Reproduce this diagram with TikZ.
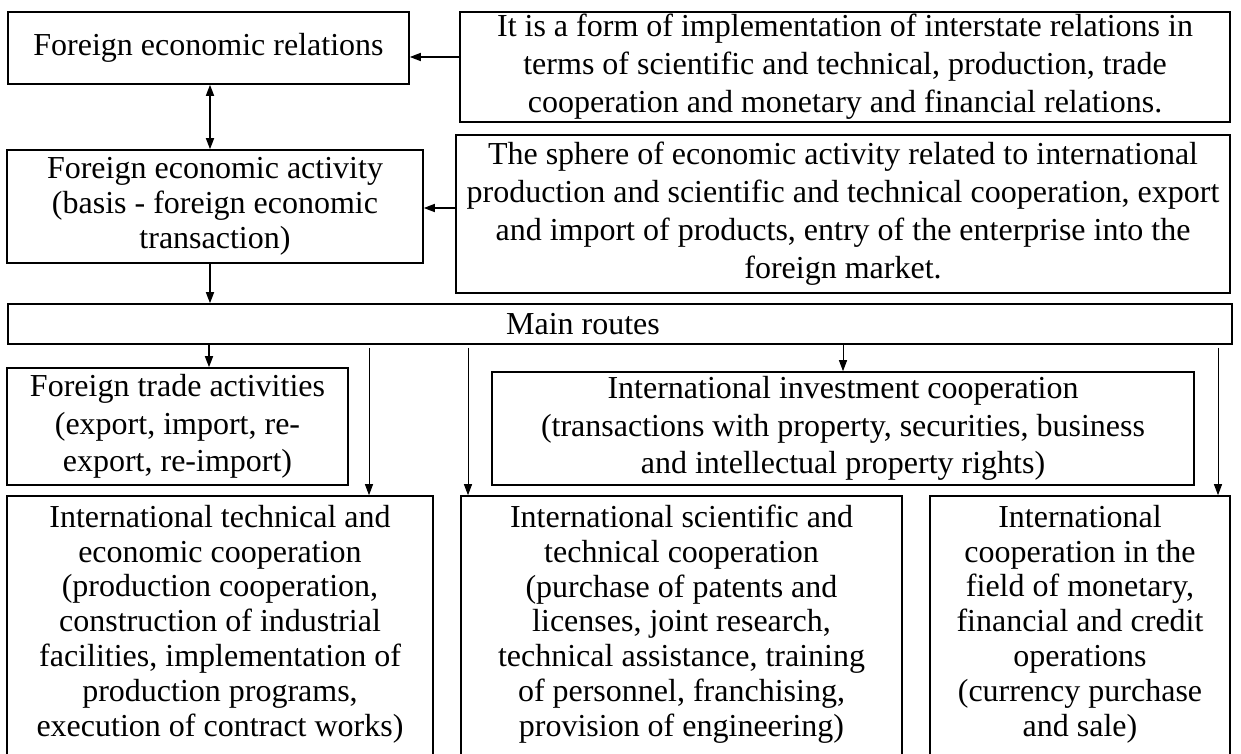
\documentclass[tikz,border=0pt]{standalone}
\usepackage{fontspec}
\setmainfont{Liberation Serif}
\usetikzlibrary{arrows.meta}
\begin{document}
\begin{tikzpicture}[x=0.5pt,y=-0.5pt,
  box/.style={draw, line width=0.8pt, inner sep=0pt, align=center},
  txt/.style={inner sep=0pt, align=center},
  fa/.style={font=\fontsize{16pt}{19pt}\selectfont},
  fb/.style={font=\fontsize{16pt}{17.5pt}\selectfont},
  fc/.style={font=\fontsize{16pt}{18.75pt}\selectfont},
  fd/.style={font=\fontsize{16pt}{17.4pt}\selectfont},
  thickarr/.style={line width=0.8pt, -{Triangle[length=5.5pt,width=4pt]}},
  bothArr/.style={line width=0.8pt, {Triangle[length=5.5pt,width=4pt]}-{Triangle[length=5.5pt,width=4pt]}},
  thinarr/.style={line width=0.5pt, -{Triangle[length=5.5pt,width=4pt]}}]
\useasboundingbox (0,0) rectangle (1241,754);

% top boxes
\node[box, fa, minimum width=200.5pt, minimum height=36pt] (A) at (208.5,48) {Foreign economic relations};
\node[box, fa, minimum width=385pt, minimum height=55pt] (B) at (845,67)
  {It is a form of implementation of interstate relations in\\
   terms of scientific and technical, production, trade\\
   cooperation and monetary and financial relations.};
\node[box, fb, minimum width=208pt, minimum height=56.5pt] (C) at (215,206.5)
  {Foreign economic activity\\(basis - foreign economic\\transaction)};
\node[box, fa, minimum width=387pt, minimum height=79pt] (D) at (843,214)
  {The sphere of economic activity related to international\\
   production and scientific and technical cooperation, export\\
   and import of products, entry of the enterprise into the\\
   foreign market.};

% main routes
\node[box, minimum width=612pt, minimum height=20pt] (M) at (620,324) {};
\node[txt, fa] (Mt) at (583,324) {Main routes};

% middle row
\node[box, fc, minimum width=170.5pt, minimum height=58.5pt] (T) at (177.5,426.5)
  {Foreign trade activities\\(export, import, re-\\export, re-import)};
\node[box, fc, minimum width=351pt, minimum height=56.5pt] (I) at (843,428.5)
  {International investment cooperation\\
   (transactions with property, securities, business\\
   and intellectual property rights)};

% bottom row
\node[box, minimum width=213pt, minimum height=132pt] (E) at (220,628) {};
\node[txt, fd] (Et) at (220,624)
  {International technical and\\economic cooperation\\(production cooperation,\\construction of industrial\\facilities, implementation of\\production programs,\\execution of contract works)};
\node[box, minimum width=220.5pt, minimum height=132pt] (S) at (681.5,628) {};
\node[txt, fd] (St) at (681.5,624)
  {International scientific and\\technical cooperation\\(purchase of patents and\\licenses, joint research,\\technical assistance, training\\of personnel, franchising,\\provision of engineering)};
\node[box, minimum width=150pt, minimum height=132pt] (F) at (1080,628) {};
\node[txt, fd] (Ft) at (1080,624)
  {International\\cooperation in the\\field of monetary,\\financial and credit\\operations\\(currency purchase\\and sale)};

% helper coordinates
\coordinate (xac) at (210,0);
\coordinate (yba) at (0,57);
\coordinate (ydc) at (0,208);
\coordinate (xtr) at (209,0);
\coordinate (xte) at (369,0);
\coordinate (xsc) at (468,0);
\coordinate (xmo) at (1218,0);

% connectors
\draw[bothArr] (A.south -| xac) -- (C.north -| xac);
\draw[thickarr] (B.west |- yba) -- (A.east |- yba);
\draw[thickarr] (D.west |- ydc) -- (C.east |- ydc);
\draw[thickarr] (C.south -| xac) -- (M.north -| xac);
\draw[thickarr] (M.south -| xtr) -- (T.north -| xtr);
\draw[thinarr, shorten <=1.5pt] (M.south -| xte) -- (E.north -| xte);
\draw[thinarr, shorten <=1.5pt] (M.south -| xsc) -- (S.north -| xsc);
\draw[thinarr] (M.south -| I.north) -- (I.north);
\draw[thinarr, shorten <=1.5pt] (M.south -| xmo) -- (F.north -| xmo);
\end{tikzpicture}
\end{document}
